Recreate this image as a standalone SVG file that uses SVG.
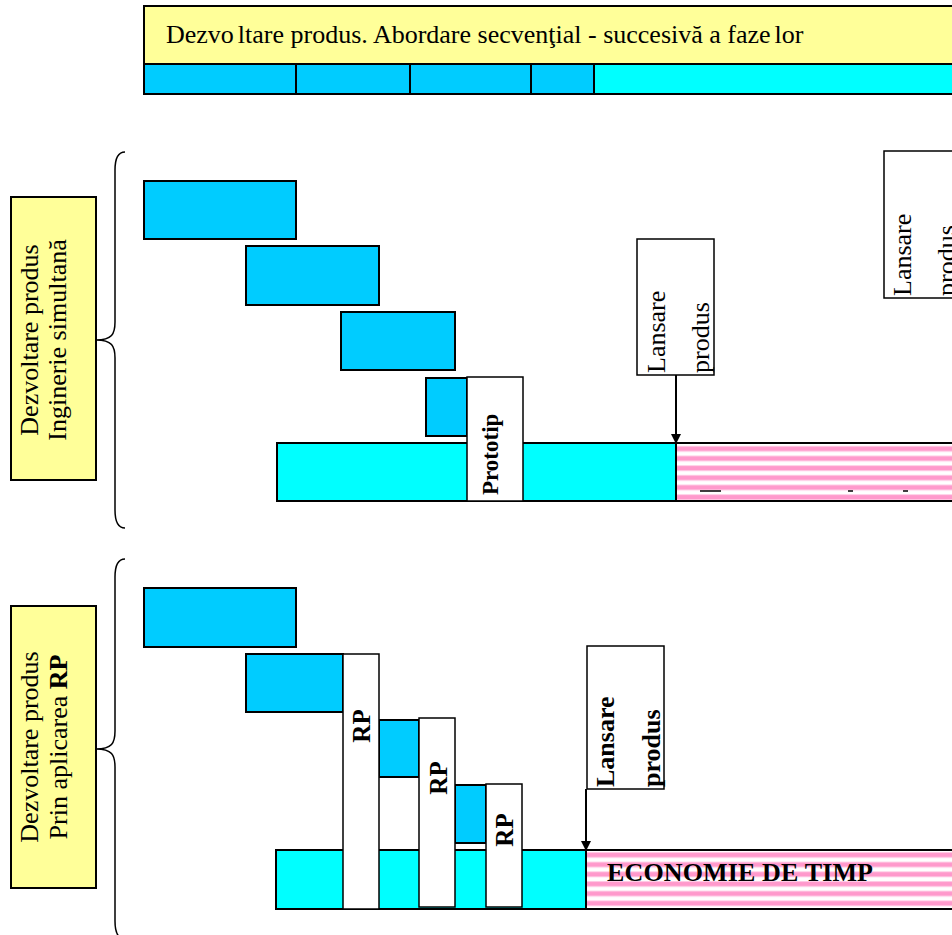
<svg xmlns="http://www.w3.org/2000/svg" width="952" height="935" viewBox="0 0 952 935">
  <defs>
    <pattern id="stripes" patternUnits="userSpaceOnUse" x="0" y="0" width="20" height="9.67">
      <rect x="0" y="0" width="20" height="9.67" fill="#ffffff"/>
      <rect x="0" y="1" width="20" height="6" fill="#ffcce6"/>
      <rect x="0" y="2" width="20" height="4" fill="#ff99cc"/>
    </pattern>
    <marker id="arrow" markerWidth="10" markerHeight="10" refX="9" refY="5" orient="auto" markerUnits="userSpaceOnUse">
      <path d="M0,0 L10,5 L0,10 Z" fill="#000"/>
    </marker>
    <style>
      .phase { fill: #00ccff; stroke: #000; stroke-width: 2; }
      .bar { fill: #00ffff; stroke: #000; stroke-width: 2; }
      .gain { fill: url(#stripes); stroke: #000; stroke-width: 2; }
      .note { fill: #ffff99; stroke: #000; stroke-width: 2; }
      .box { fill: #ffffff; stroke: #000; stroke-width: 1.5; }
      .brace { fill: none; stroke: #000; stroke-width: 1.5; }
      .link { stroke: #000; stroke-width: 2; fill: none; }
      text { font-family: "Liberation Serif", "Times New Roman", serif; fill: #000; }
      .t26 { font-size: 26px; }
      .b { font-weight: bold; }
    </style>
  </defs>

  <rect width="952" height="935" fill="#ffffff"/>

  <!-- sequential approach header -->
  <g id="header">
    <rect class="note" x="144" y="6" width="820" height="58"/>
    <text class="t26" x="166" y="43">Dezvo<tspan dx="4">ltare produs. Abordare secvenţial - succesivă a faze</tspan><tspan dx="4">lor</tspan></text>
  </g>
  <g id="header-phases">
    <rect class="phase" x="144" y="64" width="152" height="30"/>
    <rect class="phase" x="296" y="64" width="114" height="30"/>
    <rect class="phase" x="410" y="64" width="121" height="30"/>
    <rect class="phase" x="531" y="64" width="63" height="30"/>
    <rect class="bar" x="594" y="64" width="370" height="30"/>
  </g>

  <!-- concurrent engineering -->
  <g id="label-concurrent">
    <rect class="note" x="11" y="197" width="85" height="283"/>
    <text class="t26" text-anchor="middle" transform="translate(38,340) rotate(-90)">Dezvoltare produs</text>
    <text class="t26" text-anchor="middle" transform="translate(66,340) rotate(-90)">Inginerie simultană</text>
  </g>
  <g id="brace-concurrent">
    <path class="brace" d="M125,152 C118,152 115,158 115,170 L115,322 C115,334 112,340 96,340 C112,340 115,346 115,358 L115,510 C115,522 118,528 125,528"/>
  </g>
  <g id="concurrent-bar">
    <rect class="bar" x="277" y="443" width="399" height="58"/>
    <rect class="gain" x="676" y="443" width="290" height="58"/>
    <line x1="700" y1="491" x2="721" y2="491" stroke="#000" stroke-width="1.5"/>
    <line x1="848" y1="491" x2="853" y2="491" stroke="#000" stroke-width="1.5"/>
    <line x1="903" y1="491" x2="908" y2="491" stroke="#000" stroke-width="1.5"/>
  </g>
  <g id="c-phase1"><rect class="phase" x="144" y="181" width="152" height="58"/></g>
  <g id="c-phase2"><rect class="phase" x="246" y="246" width="133" height="59"/></g>
  <g id="c-phase3"><rect class="phase" x="341" y="312" width="114" height="58"/></g>
  <g id="c-phase4"><rect class="phase" x="426" y="378" width="41" height="58"/></g>
  <g id="prototip">
    <rect class="box" x="467" y="377" width="56" height="124" stroke-width="2"/>
    <text class="b" font-size="23" transform="translate(498,495) rotate(-90)">Prototip</text>
  </g>
  <g id="launch-concurrent">
    <rect class="box" x="637" y="239" width="77" height="136"/>
    <text class="t26" transform="translate(665,373) rotate(-90)">Lansare</text>
    <text class="t26" transform="translate(709,373) rotate(-90)">produs</text>
  </g>
  <g id="launch-sequential">
    <rect class="box" x="884" y="151" width="80" height="147"/>
    <text class="t26" transform="translate(911,296) rotate(-90)">Lansare</text>
    <text class="t26" transform="translate(955,296) rotate(-90)">produs</text>
  </g>

  <!-- rapid prototyping -->
  <g id="label-rp">
    <rect class="note" x="11" y="606" width="85" height="282"/>
    <text class="t26" text-anchor="middle" transform="translate(38,747) rotate(-90)">Dezvoltare produs</text>
    <text class="t26" text-anchor="middle" transform="translate(67,747) rotate(-90)">Prin aplicarea <tspan class="b">RP</tspan></text>
  </g>
  <g id="brace-rp">
    <path class="brace" d="M125,559 C118,559 115,565 115,577 L115,731 C115,743 112,749 96,749 C112,749 115,755 115,767 L115,921 C115,933 118,939 125,939"/>
  </g>
  <g id="rp-bar">
    <rect class="bar" x="276" y="850" width="310" height="59"/>
    <rect class="gain" x="586" y="850" width="380" height="59"/>
    <text class="b" font-size="26" x="607" y="881" textLength="266" lengthAdjust="spacing">ECONOMIE DE TIMP</text>
  </g>
  <g id="r-phase1"><rect class="phase" x="144" y="588" width="152" height="59"/></g>
  <g id="r-phase2"><rect class="phase" x="246" y="654" width="97" height="58"/></g>
  <g id="r-phase3"><rect class="phase" x="379" y="720" width="40" height="57"/></g>
  <g id="r-phase4"><rect class="phase" x="455" y="785" width="31" height="58"/></g>
  <g id="rp1">
    <rect class="box" x="343" y="654" width="36" height="255" stroke-width="2"/>
    <text class="b" font-size="25" text-anchor="middle" transform="translate(370,726) rotate(-90)">RP</text>
  </g>
  <g id="rp2">
    <rect class="box" x="419" y="718" width="36" height="189" stroke-width="2"/>
    <text class="b" font-size="25" text-anchor="middle" transform="translate(447,778) rotate(-90)">RP</text>
  </g>
  <g id="rp3">
    <rect class="box" x="486" y="784" width="36" height="123" stroke-width="2"/>
    <text class="b" font-size="25" text-anchor="middle" transform="translate(513,830) rotate(-90)">RP</text>
  </g>
  <g id="launch-rp">
    <rect class="box" x="587" y="646" width="77" height="143"/>
    <text class="t26 b" transform="translate(614,787) rotate(-90)">Lansare</text>
    <text class="t26 b" transform="translate(660,787) rotate(-90)">produs</text>
  </g>

  <!-- launch arrows -->
  <g id="connectors">
    <line class="link" x1="676" y1="375" x2="676" y2="443" marker-end="url(#arrow)"/>
    <line class="link" x1="586" y1="789" x2="586" y2="850" marker-end="url(#arrow)"/>
  </g>
</svg>
